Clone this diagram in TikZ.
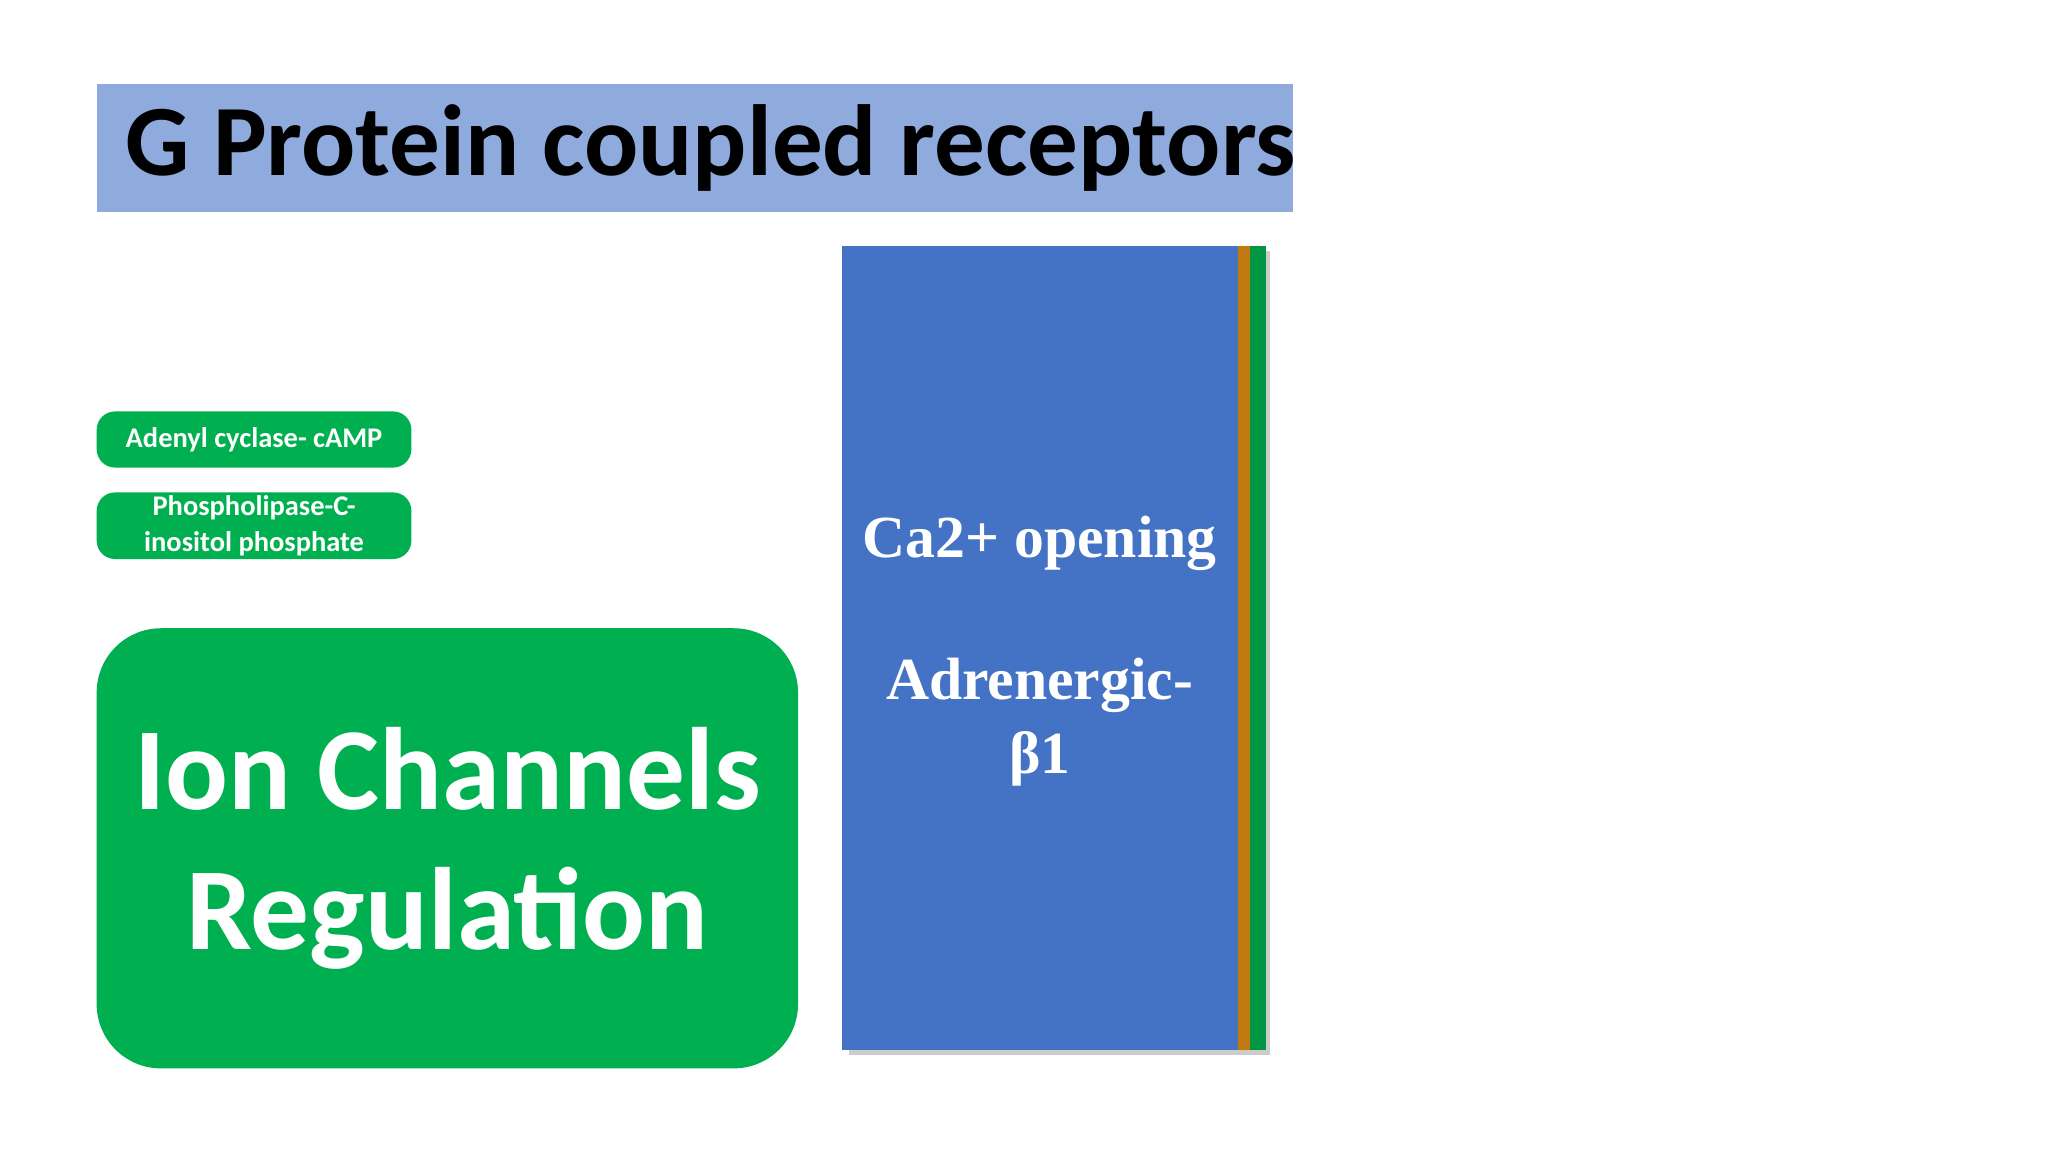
\documentclass[tikz,border=0pt]{standalone}
\usepackage{fontspec}
\setmainfont{Liberation Serif}
\newfontfamily\carl{Carlito}
\usetikzlibrary{positioning}
\definecolor{titleblue}{HTML}{8FAADC}
\definecolor{slgreen}{HTML}{00B050}
\definecolor{slblue}{HTML}{4472C4}
\definecolor{sloran}{HTML}{C07A10}
\tikzset{
  gbox/.style={fill=slgreen, draw=none, rounded corners=4pt, text=white,
    font=\carl\bfseries\fontsize{6.2}{7.8}\selectfont, align=center, inner sep=0pt},
  strip/.style={draw=none, inner sep=0pt, anchor=north west}
}
\begin{document}
\begin{tikzpicture}[x=0.01cm, y=-0.01cm]
        \useasboundingbox (0,0) rectangle (1568,882);

        % Title band
        \fill[titleblue] (74,64) rectangle (990,162);
        \node[anchor=west, font=\carl\bfseries\fontsize{22}{26}\selectfont] (title) at (84,113) {G Protein coupled receptors};

        % Small pathway boxes
        \node[gbox, minimum width=241*0.01cm, minimum height=43*0.01cm] (camp) at (194.5,336.5) {Adenyl cyclase- cAMP};
        \node[gbox, minimum width=241*0.01cm, minimum height=51*0.01cm] (plc) at (194.5,402.5) {Phospholipase-C-\\inositol phosphate};

        % Ion channel box
        \node[gbox, rounded corners=14pt, minimum width=537*0.01cm, minimum height=337*0.01cm,
              font=\carl\bfseries\fontsize{25.5}{30.5}\selectfont] (ion) at (342.5,649.5) {Ion Channels\\Regulation};

        % Stacked cards
        \fill[black!20] (650,192) rectangle (972,808);
        \fill[slgreen!85!black] (645,188) rectangle (969,804);
        \fill[sloran] (645,188) rectangle (957,804);
        \fill[slblue] (645,188) rectangle (948,804);
        \node[text=white, font=\bfseries\fontsize{13}{16}\selectfont] (ca) at (796,416) {Ca2+ opening};
        \node[text=white, font=\bfseries\fontsize{13}{16}\selectfont, align=center] (adr) at (796,553) {Adrenergic-\\β1};
\end{tikzpicture}
\end{document}
